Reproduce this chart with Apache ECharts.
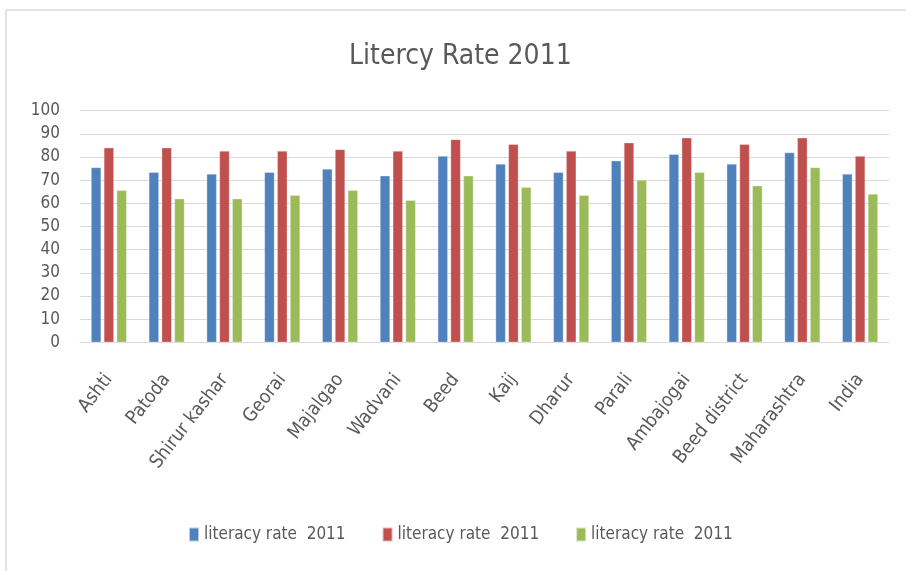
<!DOCTYPE html>
<html>
<head>
<meta charset="utf-8">
<script src="https://cdn.jsdelivr.net/npm/echarts@6/dist/echarts.min.js"></script>
<style>
    html, body { margin: 0; padding: 0; background: #fff; }
    #chart { width: 906px; height: 571px; }
</style>
</head>
<body>
<div id="chart"></div>
<script>
var categories = ['Ashti', 'Patoda', 'Shirur kashar', 'Georai', 'Majalgao', 'Wadvani', 'Beed',
    'Kaij', 'Dharur', 'Parali', 'Ambajogai', 'Beed district', 'Maharashtra', 'India'];
// same label on all three series; trailing spaces keep the names distinct
var seriesNames = ['literacy rate  2011', 'literacy rate  2011 ', 'literacy rate  2011  '];
var blueValues = [75.5, 73.4, 72.7, 73.4, 74.8, 71.9, 80.4, 77.0, 73.4, 78.4, 81.2, 77.0, 81.9, 72.7];
var redValues = [84.0, 84.0, 82.6, 82.6, 83.3, 82.6, 87.6, 85.5, 82.6, 86.2, 88.3, 85.5, 88.3, 80.4];
var greenValues = [65.6, 62.0, 62.0, 63.5, 65.6, 61.3, 71.9, 66.9, 63.5, 70.1, 73.4, 67.6, 75.5, 64.0];
var colors = ['#4F81BD', '#C0504D', '#9BBB59'];

var font = '"DejaVu Sans Condensed", "Liberation Sans Narrow", sans-serif';
var textColor = '#595959';

var chart = echarts.init(document.getElementById('chart'));

function makeSeries(name, data, color) {
    return {
        name: name,
        type: 'bar',
        data: data,
        barWidth: 10,
        barGap: '28%',
        itemStyle: { color: color, borderColor: 'rgba(255,255,255,0.6)', borderWidth: 0.5 },
        animation: false
    };
}

var option = {
    backgroundColor: '#fff',
    graphic: [
        // chart frame (top and left edges visible in the picture)
        { type: 'line', shape: { x1: 6, y1: 10, x2: 906, y2: 10 }, style: { stroke: '#d9d9d9', lineWidth: 1.5 } },
        { type: 'line', shape: { x1: 6, y1: 10, x2: 6, y2: 571 }, style: { stroke: '#d9d9d9', lineWidth: 1.5 } }
    ],
    title: {
        text: 'Litercy Rate 2011',
        left: 344,
        top: 38,
        textStyle: { fontFamily: font, fontSize: 28, fontWeight: 'normal', color: textColor }
    },
    legend: {
        bottom: 23,
        left: 183,
        itemWidth: 10,
        itemHeight: 14,
        itemGap: 36,
        icon: 'rect',
        formatter: function (name) {
            return name.trim();
        },
        textStyle: { fontFamily: font, fontSize: 17, color: textColor },
        data: seriesNames
    },
    grid: { left: 80, right: 17, top: 110.7, bottom: 228.7, containLabel: false },
    xAxis: {
        type: 'category',
        data: categories,
        axisLine: { lineStyle: { color: '#d9d9d9' } },
        axisTick: { show: false },
        axisLabel: { rotate: 52, interval: 0, margin: 34, fontFamily: font, fontSize: 19, color: textColor }
    },
    yAxis: {
        type: 'value',
        min: 0,
        max: 100,
        interval: 10,
        axisLine: { show: false },
        axisTick: { show: false },
        splitLine: { lineStyle: { color: '#d9d9d9' } },
        axisLabel: { margin: 20, fontFamily: font, fontSize: 17, color: textColor }
    },
    series: [
        makeSeries(seriesNames[0], blueValues, colors[0]),
        makeSeries(seriesNames[1], redValues, colors[1]),
        makeSeries(seriesNames[2], greenValues, colors[2])
    ]
};

chart.setOption(option);
</script>
</body>
</html>
